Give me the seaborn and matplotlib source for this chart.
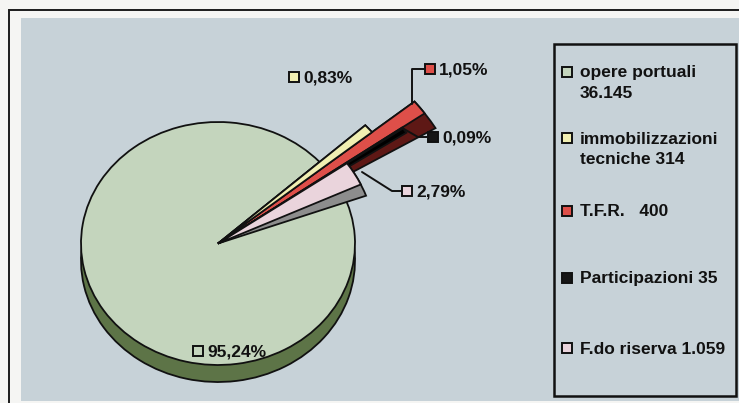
import matplotlib
matplotlib.use("Agg")
import matplotlib.pyplot as plt
import seaborn as sns
from matplotlib.patches import Rectangle

# --- data -------------------------------------------------------------
categories = ["opere portuali", "immobilizzazioni tecniche", "T.F.R.",
              "Participazioni", "F.do riserva"]
values = [36145, 314, 400, 35, 1059]

# --- style ------------------------------------------------------------
top_colors = ["#c4d5bd", "#f1efb2", "#de4f49", "#161616", "#ead4dc"]
side_colors = ["#5d7447", "#1e1e14", "#5e1815", "#000000", "#8d8d8d"]
slice_radius = [1.0, 1.45, 1.85, 1.65, 1.15]
side_sweep = [0, 3.0, 4.5, 1.5, 5.0]          # extra degrees showing the rim
top_order = [2, 5, 4, 4, 4]
legend_gap = [" ", " ", "   ", " ", " "]
legend_wrap = [True, True, False, False, False]
bg_color = "#c7d2d8"

W, H = 739, 403
cx, cy, rx, ry = 218, 243.5, 137, 121.5      # pie centre / radii in px
depth = 0.14                                   # pie thickness (in radii)
pie_box = (21, 18, 550, 401)                   # left, top, right, bottom px

sns.set_theme(style="white")
plt.rcParams["font.family"] = ["Liberation Sans", "DejaVu Sans"]
plt.rcParams["font.weight"] = "bold"

fig = plt.figure(figsize=(W / 100, H / 100), dpi=100)
fig.patch.set_facecolor("#f5f5f3")

# background layer in pixel coordinates
ax_bg = fig.add_axes([0, 0, 1, 1], zorder=0)
ax_bg.set_xlim(0, W)
ax_bg.set_ylim(H, 0)
ax_bg.axis("off")
ax_bg.add_patch(Rectangle((21, 18), W - 21, 383, facecolor=bg_color,
                          edgecolor="none"))
ax_bg.plot([9, 9, W], [H, 10, 10], color="#1c1c1c", lw=1.4,
           solid_joinstyle="miter")

# pie layer
l, t, r, b = pie_box
ax = fig.add_axes([l / W, 1 - b / H, (r - l) / W, (b - t) / H], zorder=1)
ax.patch.set_alpha(0)

startangle = 25
wprops = dict(edgecolor="#111111", linewidth=1.3)
side, _ = ax.pie(values, colors=side_colors, startangle=startangle,
                 counterclock=False, center=(0, -depth), wedgeprops=wprops)
top, _ = ax.pie(values, colors=top_colors, startangle=startangle,
                counterclock=False, center=(0, 0), wedgeprops=wprops)
for i, (ws, wt) in enumerate(zip(side, top)):
    ws.set_radius(slice_radius[i])
    wt.set_radius(slice_radius[i])
    wt.set_zorder(top_order[i])
    if i == 0:
        ws.set_zorder(1)
    else:
        # thin slices: rim seen just below each spike
        ws.set_center((0, 0))
        ws.set_theta1(wt.theta1 - side_sweep[i])
        ws.set_zorder(3)
ax.set_aspect("auto")
ax.set_xlim((l - cx) / rx, (r - cx) / rx)
ax.set_ylim((cy - b) / ry, (cy - t) / ry)
ax.axis("off")

# labels, leader lines and legend in pixel coordinates
ax_fg = fig.add_axes([0, 0, 1, 1], zorder=2)
ax_fg.patch.set_alpha(0)
ax_fg.set_xlim(0, W)
ax_fg.set_ylim(H, 0)
ax_fg.axis("off")

total = sum(values)
pct_labels = [f"{100 * v / total:.2f}".replace(".", ",") + "%" for v in values]
label_pos = [(198, 351), (294, 77), (430, 69), (433, 137), (407, 191)]
leaders = [None, None,
           [(412, 104), (412, 69), (424, 69)],
           [(404, 129), (418, 137), (427, 137)],
           [(362, 172), (392, 191), (401, 191)]]

fs = 12.5
for i, txt in enumerate(pct_labels):
    x, y = label_pos[i]
    if leaders[i]:
        xs, ys = zip(*leaders[i])
        ax_fg.plot(xs, ys, color="#111111", lw=1.4)
    ax_fg.plot([x], [y], marker="s", ms=7.5, mfc=top_colors[i],
               mec="#111111", mew=1.4, ls="none")
    ax_fg.text(x + 9, y - 6.5, txt, fontsize=fs, fontweight="bold",
               va="top", ha="left", color="#111111")

# legend
ax_fg.add_patch(Rectangle((554, 44), 182, 352, facecolor="none",
                          edgecolor="#111111", lw=1.8))
legend_y = [72, 138, 211, 278, 348]
for i, cat in enumerate(categories):
    val = f"{values[i]:,}".replace(",", ".")
    if legend_wrap[i]:
        if i == 0:
            lines = [cat, val]
        else:
            head, tail = cat.split(" ", 1)
            lines = [head, f"{tail}{legend_gap[i]}{val}"]
    else:
        lines = [f"{cat}{legend_gap[i]}{val}"]
    y = legend_y[i]
    ax_fg.plot([567], [y], marker="s", ms=6.8, mfc=top_colors[i],
               mec="#111111", mew=1.4, ls="none")
    for k, line in enumerate(lines):
        ax_fg.text(580, y - 6.5 + 21 * k, line, fontsize=fs,
                   fontweight="bold", va="top", ha="left", color="#111111")

fig.savefig("out.png", dpi=100, facecolor=fig.get_facecolor())
